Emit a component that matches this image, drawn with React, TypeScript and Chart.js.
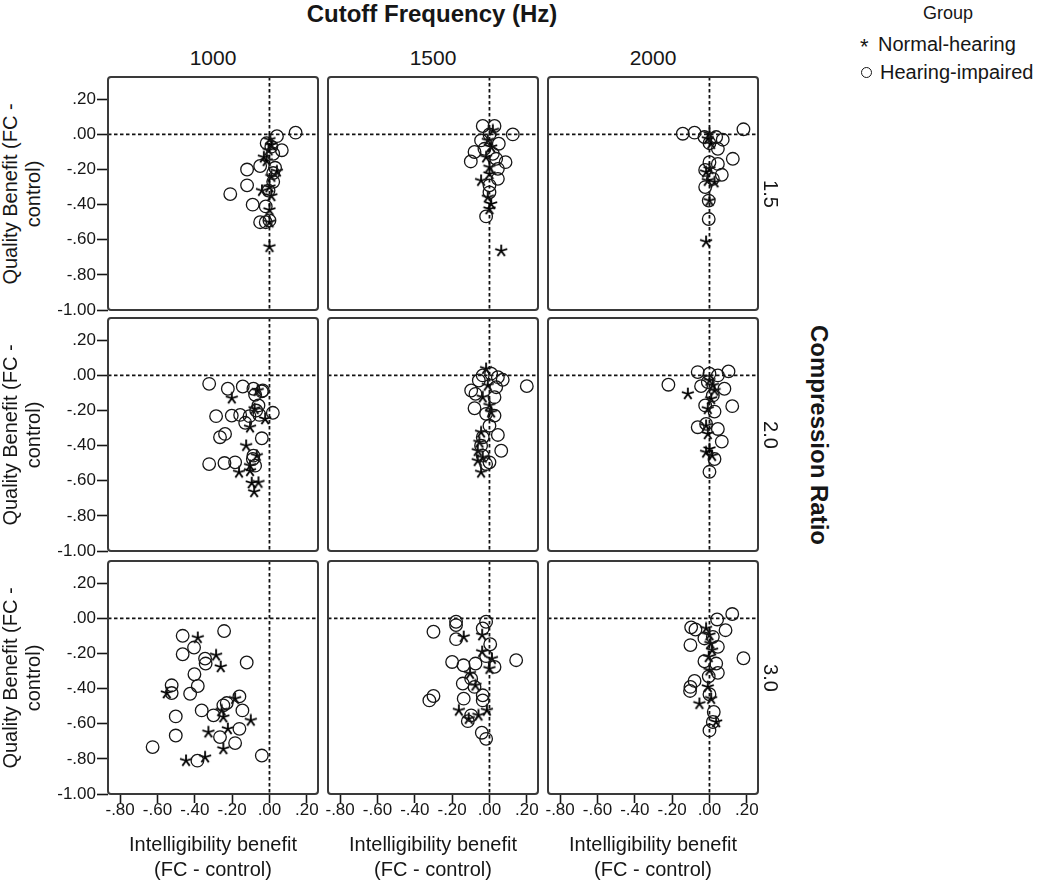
import React, { useEffect, useRef } from 'react';
import { Chart, registerables } from 'chart.js';

Chart.register(...registerables);

// ---------- data ----------
const cutoffs = ['1000', '1500', '2000'];
const ratios = ['1.5', '2.0', '3.0'];
const xTicks = [-0.8, -0.6, -0.4, -0.2, 0, 0.2];
const yTicks = [-1, -0.8, -0.6, -0.4, -0.2, 0, 0.2];
const xRange = [-0.865, 0.26];
const yRange = [-1.0, 0.327];

type P = [number, number]; // [intelligibility benefit, quality benefit]

// Cutoff 1000 Hz, CR 1.5
const nh_1000_15: P[] = [[0, -0.64], [0, -0.03], [-0.03, -0.13], [-0.015, -0.15], [0.04, -0.21], [0.01, -0.35], [-0.04, -0.32], [0, -0.43], [0, -0.5], [-0.005, -0.09], [0.01, -0.24], [0.01, -0.06], [0, -0.3]];
const hi_1000_15: P[] = [[0.14, 0.01], [0.04, -0.01], [-0.015, -0.05], [0.01, -0.07], [0.066, -0.09], [0.02, -0.11], [-0.12, -0.2], [-0.12, -0.29], [-0.21, -0.34], [-0.05, -0.18], [0.02, -0.22], [0.02, -0.27], [-0.09, -0.4], [-0.02, -0.41], [-0.05, -0.5], [-0.02, -0.5], [0, -0.49], [-0.005, -0.32], [0.03, -0.19]];
// Cutoff 1500 Hz, CR 1.5
const nh_1500_15: P[] = [[0.063, -0.663], [-0.045, -0.263], [0, -0.187], [0.009, -0.396], [0, -0.425], [-0.009, -0.034], [0.009, -0.072], [-0.018, -0.13], [0.018, 0.023], [0, -0.225], [-0.009, -0.358]];
const hi_1500_15: P[] = [[0.125, 0.0], [-0.036, 0.048], [0.027, 0.048], [-0.045, -0.034], [-0.08, -0.1], [-0.1, -0.154], [0.086, -0.158], [0.045, -0.196], [0.045, -0.253], [0, -0.29], [0, -0.33], [-0.018, -0.467], [0.05, -0.053], [0.018, -0.11], [0.036, -0.139], [-0.027, -0.082], [0, 0.0]];
// Cutoff 2000 Hz, CR 1.5
const nh_2000_15: P[] = [[-0.018, -0.611], [0, 0.004], [-0.009, -0.025], [0, -0.196], [-0.009, -0.263], [0.027, -0.272], [0, -0.377], [0.009, -0.053], [-0.018, -0.215]];
const hi_2000_15: P[] = [[0.182, 0.029], [-0.143, 0.004], [-0.08, 0.01], [-0.027, -0.015], [0.036, -0.015], [0.071, -0.03], [0.045, -0.082], [0.125, -0.139], [0.045, -0.168], [0, -0.158], [-0.023, -0.202], [0.066, -0.23], [-0.023, -0.3], [-0.004, -0.377], [-0.004, -0.482], [0, -0.05], [0.018, -0.253]];
// Cutoff 1000 Hz, CR 2.0
const nh_1000_20: P[] = [[-0.202, -0.13], [-0.023, -0.248], [-0.104, -0.295], [-0.125, -0.4], [-0.068, -0.457], [-0.163, -0.552], [-0.104, -0.543], [-0.059, -0.61], [-0.095, -0.613], [-0.082, -0.663], [-0.08, -0.19], [-0.063, -0.086], [-0.104, -0.514]];
const hi_1000_20: P[] = [[-0.323, -0.048], [-0.223, -0.076], [-0.143, -0.063], [-0.086, -0.076], [-0.041, -0.091], [-0.036, -0.086], [-0.077, -0.11], [-0.059, -0.171], [-0.071, -0.2], [0.018, -0.213], [-0.286, -0.232], [-0.202, -0.229], [-0.157, -0.225], [-0.107, -0.232], [-0.13, -0.27], [-0.238, -0.333], [-0.265, -0.352], [-0.041, -0.358], [-0.323, -0.505], [-0.241, -0.499], [-0.184, -0.495], [-0.086, -0.457], [-0.077, -0.514], [-0.089, -0.476], [-0.054, -0.225]];
// Cutoff 1500 Hz, CR 2.0
const nh_1500_20: P[] = [[-0.018, 0.038], [-0.036, -0.124], [0, -0.171], [0.009, -0.21], [-0.045, -0.324], [-0.054, -0.381], [-0.063, -0.429], [-0.063, -0.486], [-0.045, -0.552], [-0.009, -0.057], [-0.036, -0.467]];
const hi_1500_20: P[] = [[0.2, -0.061], [-0.036, 0.0], [0.009, 0.01], [0.045, -0.01], [0.071, -0.025], [-0.057, -0.029], [-0.098, -0.086], [-0.075, -0.105], [0.027, -0.124], [-0.08, -0.187], [-0.018, -0.219], [0.027, -0.229], [0, -0.286], [0.045, -0.339], [-0.036, -0.352], [0.063, -0.429], [-0.045, -0.4], [-0.036, -0.457], [0, -0.495], [-0.018, -0.505], [0.036, -0.067]];
// Cutoff 2000 Hz, CR 2.0
const nh_2000_20: P[] = [[-0.116, -0.105], [0, -0.029], [0.018, -0.057], [0.009, -0.133], [-0.009, -0.19], [-0.018, -0.286], [-0.009, -0.333], [-0.018, -0.438], [0, -0.419], [0.014, -0.457], [0.027, -0.086]];
const hi_2000_20: P[] = [[-0.22, -0.053], [-0.063, 0.019], [0, 0.01], [0.045, 0.0], [0.102, 0.023], [-0.045, -0.061], [0.08, -0.076], [-0.023, -0.171], [0.122, -0.175], [0.027, -0.206], [-0.063, -0.295], [0.045, -0.305], [-0.018, -0.276], [0.066, -0.377], [0.027, -0.476], [0, -0.549], [0.018, -0.114], [-0.009, -0.038]];
// Cutoff 1000 Hz, CR 3.0
const nh_1000_30: P[] = [[-0.384, -0.11], [-0.286, -0.21], [-0.261, -0.276], [-0.55, -0.425], [-0.184, -0.457], [-0.256, -0.524], [-0.247, -0.562], [-0.1, -0.581], [-0.223, -0.629], [-0.327, -0.648], [-0.247, -0.743], [-0.447, -0.81], [-0.345, -0.79]];
const hi_1000_30: P[] = [[-0.465, -0.099], [-0.243, -0.072], [-0.404, -0.166], [-0.465, -0.204], [-0.345, -0.229], [-0.342, -0.257], [-0.122, -0.251], [-0.402, -0.318], [-0.524, -0.381], [-0.524, -0.425], [-0.384, -0.385], [-0.425, -0.429], [-0.161, -0.444], [-0.229, -0.482], [-0.247, -0.495], [-0.363, -0.524], [-0.3, -0.552], [-0.145, -0.524], [-0.502, -0.558], [-0.161, -0.629], [-0.265, -0.676], [-0.184, -0.71], [-0.502, -0.667], [-0.626, -0.733], [-0.386, -0.81], [-0.041, -0.781]];
// Cutoff 1500 Hz, CR 3.0
const nh_1500_30: P[] = [[-0.138, -0.105], [-0.039, -0.095], [-0.039, -0.19], [0.013, -0.229], [0, -0.286], [-0.104, -0.314], [-0.075, -0.381], [-0.164, -0.524], [-0.059, -0.552], [-0.014, -0.524], [-0.111, -0.571]];
const hi_1500_30: P[] = [[-0.179, -0.019], [-0.179, -0.038], [-0.018, -0.019], [-0.036, -0.057], [-0.3, -0.076], [-0.179, -0.118], [0.004, -0.147], [0.143, -0.238], [-0.2, -0.248], [-0.139, -0.267], [-0.075, -0.257], [-0.018, -0.215], [0.027, -0.276], [-0.098, -0.343], [-0.143, -0.371], [-0.08, -0.39], [-0.036, -0.438], [-0.036, -0.467], [-0.138, -0.457], [-0.3, -0.442], [-0.322, -0.467], [-0.098, -0.552], [-0.116, -0.585], [-0.041, -0.651], [-0.018, -0.686]];
// Cutoff 2000 Hz, CR 3.0
const nh_2000_30: P[] = [[-0.018, -0.057], [0, -0.095], [0.014, -0.181], [-0.004, -0.219], [0, -0.295], [-0.009, -0.39], [-0.054, -0.486], [0.009, -0.457], [0.036, -0.59], [0.005, -0.143]];
const hi_2000_30: P[] = [[0.122, 0.025], [0.041, -0.006], [-0.098, -0.051], [-0.075, -0.063], [-0.027, -0.114], [0.086, -0.067], [-0.102, -0.152], [0.045, -0.162], [0.182, -0.227], [-0.027, -0.244], [0.036, -0.257], [0.045, -0.31], [-0.004, -0.33], [-0.08, -0.356], [-0.102, -0.39], [-0.104, -0.413], [0, -0.432], [0.023, -0.533], [0.018, -0.59], [0, -0.638], [0.018, -0.105]];

const nhPanels: P[][][] = [
  [nh_1000_15, nh_1500_15, nh_2000_15],
  [nh_1000_20, nh_1500_20, nh_2000_20],
  [nh_1000_30, nh_1500_30, nh_2000_30],
];
const hiPanels: P[][][] = [
  [hi_1000_15, hi_1500_15, hi_2000_15],
  [hi_1000_20, hi_1500_20, hi_2000_20],
  [hi_1000_30, hi_1500_30, hi_2000_30],
];

// ---------- layout ----------
const FONT = "'Liberation Sans', Arial, sans-serif";
const INK = '#161616';
const colLeft = [108, 328, 548];
const rowTop = [77, 318, 561];
const PW = 210;
const PH = 233;
const L = 60, T = 14, R = 16, B = 40;

const fmt = (v: number) => {
  const s = (Math.abs(v) < 1e-9 ? 0 : v).toFixed(2);
  return s.replace(/^(-?)0\./, '$1.');
};

let starImg: HTMLCanvasElement | null = null;
function getStar(): HTMLCanvasElement {
  if (starImg) return starImg;
  const c = document.createElement('canvas');
  c.width = 14; c.height = 14;
  const ctx = c.getContext('2d')!;
  ctx.strokeStyle = '#000';
  ctx.lineWidth = 1.8;
  ctx.lineCap = 'butt';
  ctx.beginPath();
  for (let k = 0; k < 5; k++) {
    const a = -Math.PI / 2 + (k * 2 * Math.PI) / 5;
    ctx.moveTo(7, 7);
    ctx.lineTo(7 + 6.3 * Math.cos(a), 7 + 6.3 * Math.sin(a));
  }
  ctx.stroke();
  starImg = c;
  return c;
}

const panelDeco = {
  id: 'panelDeco',
  beforeDatasetsDraw(chart: any) {
    const { ctx, chartArea: a, scales } = chart;
    const x0 = scales.x.getPixelForValue(0);
    const y0 = scales.y.getPixelForValue(0);
    ctx.save();
    ctx.strokeStyle = '#111';
    ctx.lineWidth = 1.8;
    ctx.setLineDash([3.5, 2.5]);
    ctx.beginPath();
    ctx.moveTo(a.left, y0);
    ctx.lineTo(a.right, y0);
    ctx.moveTo(x0, a.top);
    ctx.lineTo(x0, a.bottom);
    ctx.stroke();
    ctx.restore();
  },
  afterDraw(chart: any) {
    const { ctx, chartArea: a } = chart;
    ctx.save();
    ctx.strokeStyle = '#3a3a3a';
    ctx.lineWidth = 2;
    ctx.beginPath();
    (ctx as any).roundRect(a.left, a.top, a.right - a.left, a.bottom - a.top, 3);
    ctx.stroke();
    ctx.restore();
  },
};

function Panel({ row, col }: { row: number; col: number }) {
  const ref = useRef<HTMLCanvasElement | null>(null);
  useEffect(() => {
    const showY = col === 0;
    const showX = row === 2;
    const toPts = (arr: P[]) => arr.map(([x, y]) => ({ x, y }));
    const chart = new Chart(ref.current!, {
      type: 'scatter',
      data: {
        datasets: [
          {
            label: 'Hearing-impaired',
            data: toPts(hiPanels[row][col]),
            pointStyle: 'circle',
            pointRadius: 6.3,
            borderColor: INK,
            borderWidth: 1.3,
            backgroundColor: 'rgba(0,0,0,0)',
          },
          {
            label: 'Normal-hearing',
            data: toPts(nhPanels[row][col]),
            pointStyle: getStar() as any,
            pointRadius: 7,
            borderColor: INK,
            backgroundColor: INK,
          },
        ],
      },
      options: {
        animation: false,
        responsive: false,
        maintainAspectRatio: false,
        devicePixelRatio: 1,
        events: [],
        layout: { padding: { left: 0, top: T, right: R, bottom: 0 } },
        plugins: { legend: { display: false }, tooltip: { enabled: false } },
        scales: {
          x: {
            type: 'linear',
            min: xRange[0],
            max: xRange[1],
            afterBuildTicks: (s: any) => { s.ticks = xTicks.map((v) => ({ value: v })); },
            afterFit: (s: any) => { s.height = B; },
            border: { display: false },
            grid: { display: showX, drawOnChartArea: false, drawTicks: true, tickLength: 9, tickWidth: 1.6, tickColor: INK },
            ticks: {
              display: showX,
              autoSkip: false,
              maxRotation: 0,
              minRotation: 0,
              padding: -3,
              color: INK,
              font: { family: FONT, size: 17 },
              callback: (v: any) => fmt(Number(v)),
            },
          },
          y: {
            type: 'linear',
            min: yRange[0],
            max: yRange[1],
            afterBuildTicks: (s: any) => { s.ticks = yTicks.map((v) => ({ value: v })); },
            afterFit: (s: any) => { s.width = L; },
            border: { display: false },
            grid: { display: showY, drawOnChartArea: false, drawTicks: true, tickLength: 11, tickWidth: 1.6, tickColor: INK },
            ticks: {
              display: showY,
              autoSkip: false,
              padding: 1,
              color: INK,
              font: { family: FONT, size: 17 },
              callback: (v: any) => fmt(Number(v)),
            },
          },
        },
      },
      plugins: [panelDeco],
    } as any);
    return () => chart.destroy();
  }, [row, col]);
  const w = PW + L + R;
  const h = PH + T + B;
  return (
    <canvas
      ref={ref}
      width={w}
      height={h}
      style={{ position: 'absolute', left: colLeft[col] - L, top: rowTop[row] - T, width: w, height: h }}
    />
  );
}

const txt: React.CSSProperties = {
  position: 'absolute',
  fontFamily: FONT,
  color: INK,
  whiteSpace: 'nowrap',
  lineHeight: 1,
};

function Label({ x, y, children, size = 20, bold = false, rot = 0, lh = 1 }: any) {
  return (
    <div
      style={{
        ...txt,
        left: x,
        top: y,
        fontSize: size,
        fontWeight: bold ? 700 : 400,
        lineHeight: lh,
        textAlign: 'center',
        transform: `translate(-50%, -50%) rotate(${rot}deg)`,
      }}
    >
      {children}
    </div>
  );
}

export default function App() {
  const colCenter = colLeft.map((l) => l + PW / 2);
  const rowCenter = rowTop.map((t) => t + PH / 2);
  return (
    <div style={{ position: 'absolute', left: 0, top: 0, width: 1050, height: 888, background: '#fff', overflow: 'hidden' }}>
      <Label x={432} y={14} size={24} bold>Cutoff Frequency (Hz)</Label>
      {cutoffs.map((c, i) => (
        <Label key={c} x={colCenter[i]} y={57} size={21}>{c}</Label>
      ))}
      {/* legend */}
      <Label x={948} y={13} size={18}>Group</Label>
      <div style={{ ...txt, left: 860, top: 34, fontSize: 20, display: 'flex', alignItems: 'center' }}>
        <span style={{ display: 'inline-block', width: 14, fontSize: 22, lineHeight: '14px', marginTop: 6 }}>*</span>
        <span style={{ marginLeft: 4 }}>Normal-hearing</span>
      </div>
      <div style={{ ...txt, left: 860, top: 62, fontSize: 20, display: 'flex', alignItems: 'center' }}>
        <span style={{ display: 'inline-block', width: 9, height: 9, border: `1.3px solid ${INK}`, borderRadius: '50%', marginLeft: 1, marginRight: 4 }} />
        <span style={{ marginLeft: 4 }}>Hearing-impaired</span>
      </div>
      {/* panels */}
      {[0, 1, 2].map((r) => [0, 1, 2].map((c) => <Panel key={`${r}-${c}`} row={r} col={c} />))}
      {/* y-axis titles */}
      {rowCenter.map((cy, i) => (
        <Label key={`yt${i}`} x={22} y={cy} size={20} rot={-90} lh={1.15}>
          Quality Benefit (FC -<br />control)
        </Label>
      ))}
      {/* row labels */}
      {ratios.map((r, i) => (
        <Label key={`r${i}`} x={771} y={rowCenter[i]} size={20} rot={90}>{r}</Label>
      ))}
      <Label x={819} y={435} size={24} bold rot={90}>Compression Ratio</Label>
      {/* x-axis titles */}
      {colCenter.map((cx, i) => (
        <Label key={`xt${i}`} x={cx} y={857} size={20} lh={1.25}>
          Intelligibility benefit<br />(FC - control)
        </Label>
      ))}
    </div>
  );
}
